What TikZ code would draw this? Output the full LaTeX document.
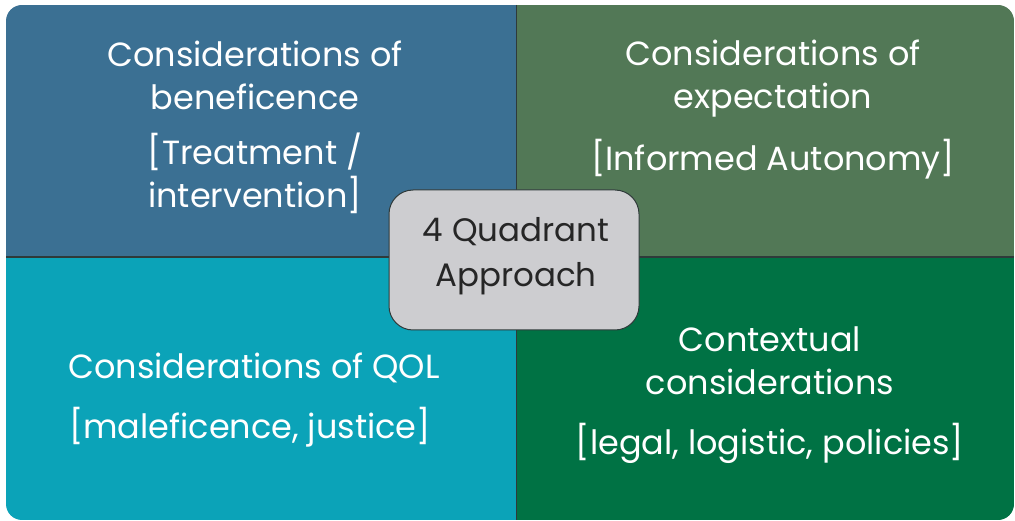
\documentclass[tikz,border=0pt]{standalone}
\usepackage{fontspec}
\setmainfont{Poppins}
\definecolor{qtl}{HTML}{3B7093}
\definecolor{qtr}{HTML}{527856}
\definecolor{qbl}{HTML}{0BA3B8}
\definecolor{qbr}{HTML}{007244}
\definecolor{cbox}{HTML}{CDCDD0}
\definecolor{cline}{HTML}{2F3A3A}
\begin{document}
\begin{tikzpicture}[x=1pt,y=-1pt,
  qtext/.style={text=white,align=center,font=\fontsize{33.5}{43}\selectfont,inner sep=0pt},
  ctext/.style={text=black!85,align=center,font=\fontsize{32.5}{45}\selectfont},
  centerbox/.style={draw=cline,line width=1pt,fill=cbox,rounded corners=24pt,minimum width=250pt,minimum height=140pt}]
\useasboundingbox (0,0) rectangle (1015,521);
\begin{scope}
  \clip[rounded corners=16pt] (6,5) rectangle (1014,520);
  \fill[qtl] (6,5) rectangle (516,257);
  \fill[qtr] (516,5) rectangle (1014,257);
  \fill[qbl] (6,257) rectangle (516,520);
  \fill[qbr] (516,257) rectangle (1014,520);
  \draw[cline,line width=1.2pt] (6,257) -- (1014,257);
  \draw[cline,line width=1pt] (516,5) -- (516,520);
\end{scope}
\node[qtext] (tla) at (255,75) {Considerations of\\beneficence};
\node[qtext] (tlb) at (255,173) {[Treatment /\\intervention]};
\node[qtext] (tra) at (773,79) {Considerations of\\expectation};
\node[qtext] (trb) at (773,159) {[Informed Autonomy]};
\node[qtext] (bla) at (254,368) {Considerations of QOL};
\node[qtext] (blb) at (250,427) {[maleficence, justice]};
\node[qtext] (bra) at (770,361) {Contextual\\considerations};
\node[qtext] (brb) at (770,443) {[legal, logistic, policies]};
\node[centerbox] (cb) at (514,260) {};
\node[ctext] (ct) at (516,256) {4 Quadrant\\Approach};
\end{tikzpicture}
\end{document}
